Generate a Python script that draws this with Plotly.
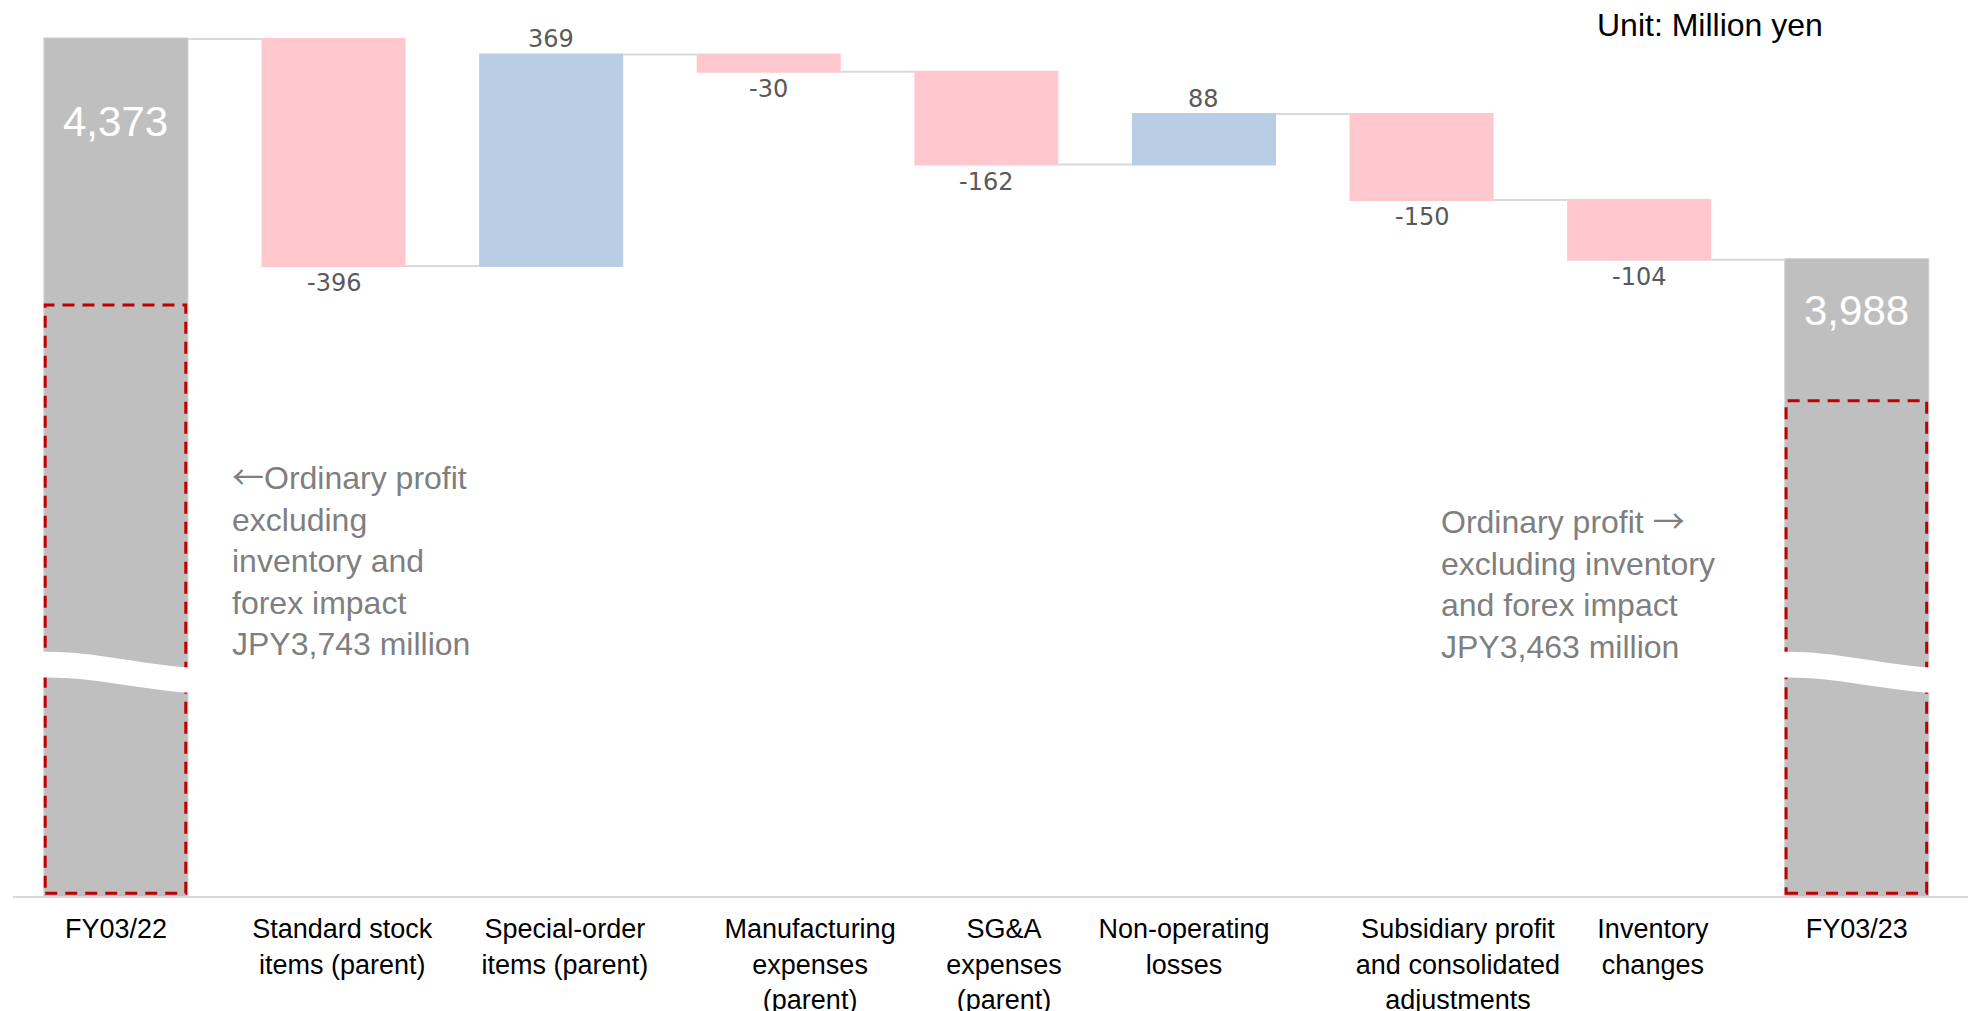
import plotly.graph_objects as go

# ---------------- data ----------------
categories = [
    "FY03/22",
    "Standard stock<br>items (parent)",
    "Special-order<br>items (parent)",
    "Manufacturing<br>expenses<br>(parent)",
    "SG&A<br>expenses<br>(parent)",
    "Non-operating<br>losses",
    "Subsidiary profit<br>and consolidated<br>adjustments",
    "Inventory<br>changes",
    "FY03/23",
]
start_value = 4373
changes = [-396, 369, -30, -162, 88, -150, -104]
excl_values = [3743, 3463]  # ordinary profit excl. inventory & forex impact
unit_text = "Unit: Million yen"

# ---------------- layout / style ----------------
# horizontal nudges of the category labels (in category units), as in the original slide
label_nudge = [0.0, 0.04, 0.063, 0.19, 0.081, -0.092, 0.167, 0.063, 0.0]

n = len(categories)
xs = list(range(n))
end_value = start_value + sum(changes)
measures = ["absolute"] + ["relative"] * len(changes) + ["total"]
yvals = [start_value] + changes + [0]

GREY = "#BFBFBF"
PINK = "#FFC7CE"
BLUE = "#B9CDE5"
LABEL = "#595959"
NOTE = "#7F7F7F"
RED = "#C00000"
BAR_W = 0.662
HALF = BAR_W / 2
ARROW = "<span style=\"font-family:'Noto Sans CJK JP'\">{}</span>"

fig = go.Figure()
fig.add_trace(go.Waterfall(
    x=xs, y=yvals, measure=measures, width=[BAR_W] * n,
    decreasing=dict(marker=dict(color=PINK, line=dict(width=0))),
    increasing=dict(marker=dict(color=BLUE, line=dict(width=0))),
    totals=dict(marker=dict(color=GREY, line=dict(color="#D0D0D0", width=1))),
    connector=dict(mode="between", line=dict(color="#D9D9D9", width=2)),
    textinfo="none", hoverinfo="skip", showlegend=False,
))

annotations = []
level = start_value
for i, d in enumerate(changes, start=1):
    new = level + d
    annotations.append(dict(x=i, y=new, xref="x", yref="y", text=f"{d:,}",
                            showarrow=False, yanchor="middle", yshift=-17 if d < 0 else 15,
                            font=dict(family="DejaVu Sans, Verdana, sans-serif", size=24, color=LABEL)))
    level = new

for xi, v, sh in [(0, start_value, -83), (n - 1, end_value, -51)]:
    annotations.append(dict(x=xi, y=v, xref="x", yref="y", text=f"{v:,}", showarrow=False,
                            yanchor="middle", yshift=sh,
                            font=dict(family="Liberation Sans, Arial, sans-serif", size=42, color="white")))

annotations.append(dict(
    x=0.525, y=3469, xref="x", yref="y", xanchor="left", yanchor="middle", align="left",
    text=ARROW.format("←") + f"Ordinary profit<br>excluding<br>inventory and<br>forex impact<br>JPY{excl_values[0]:,} million",
    showarrow=False, font=dict(family="Liberation Sans, Arial, sans-serif", size=32, color=NOTE)))
annotations.append(dict(
    x=6.08, y=3428, xref="x", yref="y", xanchor="left", yanchor="middle", align="left",
    text="Ordinary profit " + ARROW.format("→") + f"<br>excluding inventory<br>and forex impact<br>JPY{excl_values[1]:,} million",
    showarrow=False, font=dict(family="Liberation Sans, Arial, sans-serif", size=32, color=NOTE)))
annotations.append(dict(
    x=0.927, y=0.972, xref="paper", yref="paper", xanchor="right", yanchor="middle",
    text=unit_text, showarrow=False,
    font=dict(family="Liberation Sans, Arial, sans-serif", size=32, color="black")))

shapes = []
for xc, top in [(0, 3909), (n - 1, 3742)]:
    shapes.append(dict(type="rect", xref="x", yref="y", x0=xc - HALF + 0.006, x1=xc + HALF - 0.01,
                       y0=2883, y1=top, line=dict(color=RED, width=3, dash="12px,8px"),
                       fillcolor="rgba(0,0,0,0)", layer="above"))
for xc in [0, n - 1]:
    x0 = xc - HALF - 0.02
    x1 = xc + HALF + 0.02
    w = x1 - x0
    tl, tr, bl, br = 3304, 3276, 3259, 3232
    path = (f"M {x0},{tl} C {x0 + 0.35 * w},{tl + 2} {x0 + 0.6 * w},{tr + 8} {x1},{tr} "
            f"L {x1},{br} C {x0 + 0.6 * w},{br + 8} {x0 + 0.35 * w},{bl + 2} {x0},{bl} Z")
    shapes.append(dict(type="path", xref="x", yref="y", path=path, fillcolor="white",
                       line=dict(width=0), layer="above"))

fig.update_layout(
    width=1968, height=1011,
    margin=dict(l=13, r=0, t=0, b=115, autoexpand=False),
    paper_bgcolor="white", plot_bgcolor="white",
    annotations=annotations, shapes=shapes,
    xaxis=dict(range=[-0.473, 8.511], tickmode="array", automargin=False,
               tickvals=[x + dx for x, dx in zip(xs, label_nudge)], ticktext=categories,
               showgrid=False, zeroline=False, showline=True, linecolor="#D9D9D9", linewidth=2,
               ticks="", ticklabelstandoff=8,
               tickfont=dict(family="Liberation Sans, Arial, sans-serif", size=27, color="black")),
    yaxis=dict(range=[2878, 4441], showgrid=False, zeroline=False, showticklabels=False,
               showline=False, ticks="", automargin=False),
)

fig.write_html("out.html")
